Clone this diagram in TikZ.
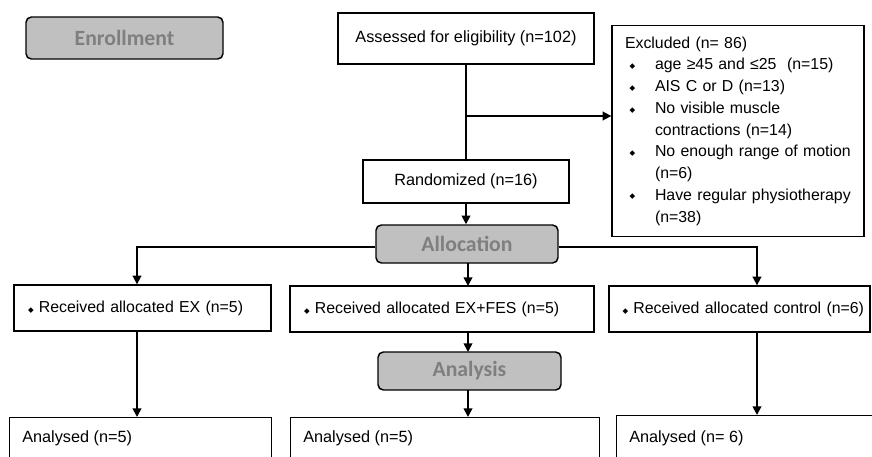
\documentclass[tikz,border=0pt]{standalone}
\usepackage{fontspec}
\setmainfont{Liberation Sans}
\newfontfamily\hdrfont{Carlito}
\newfontfamily\djfont{DejaVu Sans}
\usetikzlibrary{arrows.meta,calc}
\definecolor{hdrfill}{HTML}{C0C0C0}
\definecolor{hdrtext}{HTML}{7F7F7F}
\newcommand{\bul}{{\djfont\fontsize{5.5}{5.5}\selectfont ◆}}
\newcommand{\bitem}{\makebox[22.5pt][l]{\hspace{3.5pt}\raisebox{1pt}{\bul}}}
\newcommand{\bcont}{\hspace*{22.5pt}}
\begin{document}
\begin{tikzpicture}[x=0.75pt,y=-0.75pt,
  box/.style={draw, line width=1pt, inner sep=0pt, fill=white},
  hdrbox/.style={draw, line width=1.1pt, rounded corners=4pt, fill=hdrfill, text=hdrtext,
     font=\hdrfont\bfseries\fontsize{16.3}{18}\selectfont, inner sep=0pt},
  conn/.style={line width=1.3pt},
  arr/.style={conn, -{Triangle[length=6.5pt,width=6.5pt]}},
  txt/.style={font=\fontsize{12.2}{14}\selectfont},
  rtxt/.style={font=\fontsize{11.9}{14}\selectfont}
]
\useasboundingbox (0,0) rectangle (872,457);
\clip (0,0) rectangle (872,457);

% headers
\node[hdrbox, minimum width=147.75pt, minimum height=31.5pt] (enroll) at (124.5,38) {Enrollment};
\node[hdrbox, minimum width=136.5pt, minimum height=28.5pt] (alloc) at (467,244) {Allocation};
\node[hdrbox, minimum width=137.25pt, minimum height=28.5pt] (analysis) at (469.5,371) {Analysis};

% enrollment boxes
\node[box, txt, minimum width=192pt, minimum height=38.25pt] (assess) at (466,38.5) {Assessed for eligibility (n=102)};
\node[box, txt, minimum width=154.5pt, minimum height=32.25pt] (rand) at (466,181.5) {Randomized (n=16)};
\node[box, minimum width=189pt, minimum height=158.25pt, text width=169.5pt, align=left,
      font=\fontsize{11.9}{16.3}\selectfont] (excl) at (738,131)
{\mbox{Excluded (n= 86)}\\
\mbox{\bitem age ≥45 and ≤25\ \ (n=15)}\\
\mbox{\bitem AIS C or D (n=13)}\\
\mbox{\bitem No visible muscle}\\
\mbox{\bcont contractions (n=14)}\\
\mbox{\bitem No enough range of motion}\\
\mbox{\bcont (n=6)}\\
\mbox{\bitem Have regular physiotherapy}\\
\mbox{\bcont (n=38)}};

% allocation boxes
\node[box, rtxt, minimum width=192.75pt, minimum height=34.5pt, text width=171.75pt, align=left] (ex) at (142.5,308) {\mbox{\bul\ Received allocated EX (n=5)}};
\node[box, rtxt, minimum width=228pt, minimum height=34.5pt, text width=207pt, align=left] (exfes) at (442,309) {\mbox{\bul\ Received allocated EX+FES (n=5)}};
\node[box, rtxt, minimum width=195.75pt, minimum height=34.5pt, text width=175.5pt, align=left] (ctrl) at (739.5,309) {\mbox{\bul\ Received allocated control (n=6)}};

% analysed boxes
\node[box, minimum width=196.5pt, minimum height=60pt, anchor=north west] (an1) at (9,417) {};
\node[box, minimum width=231.75pt, minimum height=60pt, anchor=north west] (an2) at (290,417) {};
\node[box, minimum width=198pt, minimum height=60pt, anchor=north west] (an3) at (616,415) {};
\node[txt, anchor=west, inner sep=0pt] (an1t) at ($(an1.north west)+(13,21)$) {Analysed (n=5)};
\node[txt, anchor=west, inner sep=0pt] (an2t) at ($(an2.north west)+(13,21)$) {Analysed (n=5)};
\node[txt, anchor=west, inner sep=0pt] (an3t) at ($(an3.north west)+(13,23)$) {Analysed (n= 6)};

% connectors
\coordinate (br) at (466,116);
\coordinate (lx) at (137,247);
\coordinate (rx) at (757,247);
\draw[conn] (assess.south) -- (rand.north);
\draw[arr] (br) -- (br -| excl.west);
\draw[arr] (rand.south) -- (rand.south |- alloc.north);
\draw[arr] (alloc.west |- lx) -- (lx) -- (lx |- ex.north);
\draw[arr] (alloc.east |- rx) -- (rx) -- (rx |- ctrl.north);
\draw[arr] (468,263) -- (468,286);
\draw[arr] (468,332) -- (468,352);
\draw[arr] (468,390) -- (468,417);
\draw[arr] (lx |- ex.south) -- (lx |- an1.north);
\draw[arr] (rx |- ctrl.south) -- (rx |- an3.north);
\end{tikzpicture}
\end{document}
